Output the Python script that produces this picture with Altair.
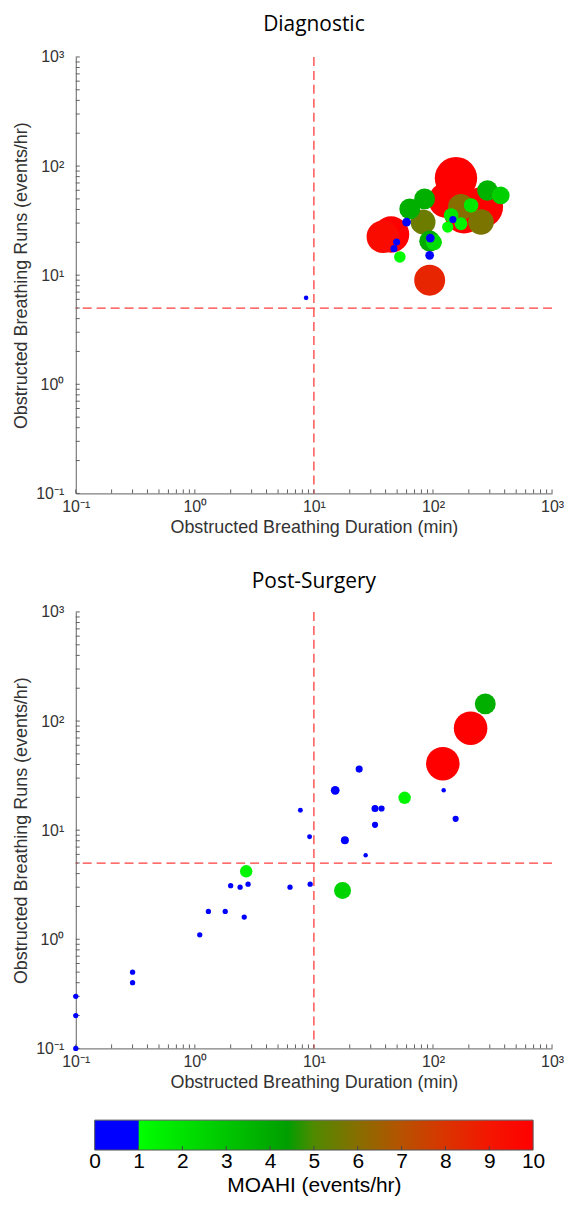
import altair as alt
import pandas as pd

# ---------------- data ----------------
diag_duration = [8.6, 38, 44.5, 49.5, 47, 52.7, 60, 63.8, 85, 82.5,
                 94, 102, 95, 93.8, 93.8, 156, 129, 262, 182, 172,
                 253, 287, 371, 209, 142, 147, 133, 172]
diag_runs = [6.2, 22.5, 23.6, 20.1, 17.5, 14.7, 30.7, 40.5, 50, 30.7,
             20.5, 20, 21.9, 15.2, 9.0, 77.5, 48.7, 42.1, 36.3, 42.1,
             30.7, 59.7, 53.8, 43.6, 35.3, 32.4, 27.6, 29.6]
diag_moahi = [0.1, 9.5, 11.7, 0.36, 0.36, 1.1, 0.6, 3.8, 3.8, 5.5,
              3.9, 2.2, 0.6, 0.6, 8.5, 16, 11.1, 14.7, 13.4, 6.0,
              5.8, 3.7, 2.7, 1.8, 1.8, 0.36, 1.05, 1.4]

post_duration = [0.1, 0.1, 0.1, 0.3, 0.3, 1.1, 1.3, 1.8, 2.6, 2.0,
                 2.4, 2.8, 2.7, 6.3, 9.3, 9.2, 7.7, 15.1, 24, 18.2,
                 17.4, 27.2, 32.6, 37, 32.6, 57.8, 123, 155, 121, 207, 275]
post_runs = [0.1, 0.2, 0.3, 0.5, 0.4, 1.1, 1.8, 1.8, 1.6, 3.1,
             3.0, 3.2, 4.2, 3.0, 3.2, 8.7, 15.2, 23.2, 36.3, 8.1,
             2.8, 5.9, 15.8, 15.8, 11.2, 19.8, 23.2, 12.7, 40.7, 86, 143.6]
post_moahi = [0.16, 0.16, 0.16, 0.16, 0.16, 0.16, 0.16, 0.16, 0.16, 0.16,
              0.16, 0.16, 1.3, 0.16, 0.16, 0.13, 0.13, 0.6, 0.36, 0.48,
              2.5, 0.09, 0.36, 0.25, 0.25, 1.3, 0.09, 0.25, 10, 10, 3.8]

duration_threshold = [10]
runs_threshold = [5]
decades = [0.1, 1, 10, 100, 1000]
minor_ticks = [0.2, 0.3, 0.4, 0.5, 0.6, 0.7, 0.8, 0.9,
               2, 3, 4, 5, 6, 7, 8, 9,
               20, 30, 40, 50, 60, 70, 80, 90,
               200, 300, 400, 500, 600, 700, 800, 900]
cbar_labels = [0, 1, 2, 3, 4, 5, 6, 7, 8, 9, 10]
cbar_inner_ticks = [1, 2, 3, 4, 5, 6, 7, 8, 9]

cmap_domain = [0, 0.999, 1, 4.4, 5, 6, 7, 8, 9, 10]
cmap_colors = ["#0000ff", "#0000ff", "#00ff00", "#009e00", "#508a00",
               "#876e00", "#b65200", "#da3400", "#f41600", "#ff0000"]

# ---------------- styling ----------------
AX_FONT = "Liberation Sans"
TITLE_FONT = "Open Sans"
AX_GRAY = "#606060"
TXT = "#333333"
W = 478
H = 438
EXTRA = 47  # blank band above the lower panel's plot area
CB_H = 30

label_expr = "['10\u207b\u00b9','10\u2070','10\u00b9','10\u00b2','10\u00b3'][round(log(datum.value)/LN10)+1]"

color_scale = alt.Scale(domain=cmap_domain, range=cmap_colors, interpolate="rgb", clamp=True)
size_scale = alt.Scale(domain=[0, 10], range=[10, 1134])


def make_panel(dur, runs, moahi, title, extra, title_offset):
    xscale = alt.Scale(type="log", domain=[0.1, 1000], nice=False)
    if extra:
        yscale = alt.Scale(type="log", domain=[0.1, 1000], nice=False, range=[H + extra, extra])
    else:
        yscale = alt.Scale(type="log", domain=[0.1, 1000], nice=False)

    xaxis = alt.Axis(values=decades, labelExpr=label_expr, ticks=False, grid=False,
                     domainColor=AX_GRAY, domainWidth=1, labelFont=AX_FONT, labelFontSize=16,
                     labelColor=TXT, labelFlush=False, labelOverlap=False, labelPadding=5,
                     title="Obstructed Breathing Duration (min)", titleFont=AX_FONT,
                     titleFontSize=18, titleFontWeight="normal", titleColor=TXT, titlePadding=4)
    yaxis = alt.Axis(values=decades, labelExpr=label_expr, ticks=False, grid=False,
                     domainColor=AX_GRAY, domainWidth=1, labelFont=AX_FONT, labelFontSize=16,
                     labelColor=TXT, labelFlush=False, labelOverlap=False, labelPadding=12,
                     title="Obstructed Breathing Runs (events/hr)", titleFont=AX_FONT,
                     titleFontSize=18, titleFontWeight="normal", titleColor=TXT, titlePadding=5)

    def X(f):
        return alt.X(f, type="quantitative", scale=xscale, axis=xaxis)

    def Y(f):
        return alt.Y(f, type="quantitative", scale=yscale, axis=yaxis)

    pts = pd.DataFrame({"dur": dur, "runs": runs, "moahi": moahi})
    pts = pts.sort_values("moahi", ascending=False).reset_index(drop=True)
    pts["order"] = range(len(pts))

    scatter = alt.Chart(pts).mark_circle(opacity=1, strokeWidth=0).encode(
        x=X("dur"), y=Y("runs"),
        color=alt.Color("moahi:Q", scale=color_scale, legend=None),
        size=alt.Size("moahi:Q", scale=size_scale, legend=None),
        order=alt.Order("order:Q"),
    )

    vdf = pd.DataFrame({"dur": duration_threshold, "top": [1000], "bot": [0.1]})
    vline = alt.Chart(vdf).mark_rule(color="#ff3c3c", strokeWidth=1.3, strokeDash=[9, 5]).encode(
        x=X("dur"), y=Y("top"), y2=alt.Y2("bot"))
    hdf = pd.DataFrame({"runs": runs_threshold})
    hline = alt.Chart(hdf).mark_rule(color="#ff3c3c", strokeWidth=1.3, strokeDash=[9, 5]).encode(
        y=Y("runs"))

    tdf = pd.DataFrame({"v": decades + minor_ticks, "edge": [0.1] * (len(decades) + len(minor_ticks))})
    xticks = alt.Chart(tdf).mark_rule(color=AX_GRAY, strokeWidth=1, y2Offset=-4).encode(
        x=X("v"), y=Y("edge"), y2=alt.Y2("edge"))
    yticks = alt.Chart(tdf).mark_rule(color=AX_GRAY, strokeWidth=1, x2Offset=4).encode(
        y=Y("v"), x=X("edge"), x2=alt.X2("edge"))

    return alt.layer(hline, vline, xticks, yticks, scatter).properties(
        width=W, height=H + extra,
        title=alt.TitleParams(text=title, font=TITLE_FONT, fontSize=21, fontWeight="normal",
                              color="black", anchor="middle", frame="group",
                              baseline="bottom", offset=title_offset),
    )


top = make_panel(diag_duration, diag_runs, diag_moahi, "Diagnostic", 0, -7)
bottom = make_panel(post_duration, post_runs, post_moahi, "Post-Surgery", EXTRA, -48)

# ---------------- colour bar ----------------
grad = alt.LinearGradient(
    gradient="linear", x1=0, x2=1, y1=0, y2=0,
    stops=[alt.GradientStop(color=c, offset=d / 10.0) for d, c in zip(cmap_domain, cmap_colors)],
)
cb_scale = alt.Scale(domain=[0, 10], nice=False, zero=False)
cb_axis = alt.Axis(values=cbar_labels, format="d", ticks=False, domain=False, grid=False,
                   labelFont=AX_FONT, labelFontSize=21, labelColor="black", labelFlush=False,
                   labelOverlap=False, labelPadding=1, title="MOAHI (events/hr)", titleFont=AX_FONT,
                   titleFontSize=21, titleFontWeight="normal", titleColor="black", titlePadding=3)
bar_df = pd.DataFrame({"lo": [0], "hi": [10]})
bar = alt.Chart(bar_df).mark_rect(color=grad, stroke="#555555", strokeWidth=1).encode(
    x=alt.X("lo:Q", scale=cb_scale, axis=cb_axis), x2=alt.X2("hi"))
ct_df = pd.DataFrame({"lo": cbar_inner_ticks})
cticks = alt.Chart(ct_df).mark_rule(color="#444444", strokeWidth=1).encode(
    x=alt.X("lo:Q", scale=cb_scale, axis=cb_axis), y=alt.value(CB_H), y2=alt.value(CB_H - 4))
cbar = alt.layer(bar, cticks).properties(width=440, height=CB_H)

chart = alt.vconcat(top, bottom, cbar, spacing=72, bounds="flush", center=True).resolve_scale(
    x="independent", y="independent", color="independent", size="independent"
).properties(padding={"left": 4, "top": 4, "right": 0, "bottom": 0}).configure_view(stroke=None)

chart.save("out.html", embed_options={"renderer": "svg", "actions": False})
